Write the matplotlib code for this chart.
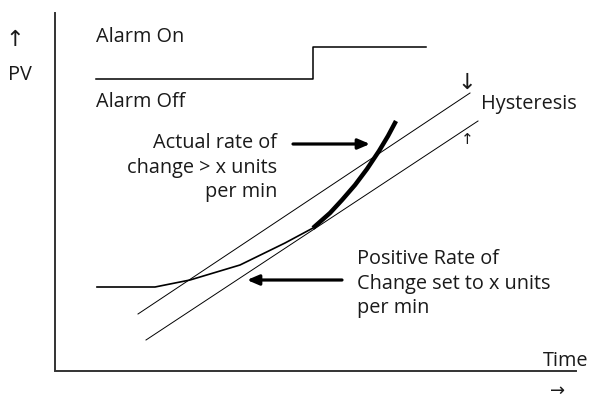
import matplotlib
matplotlib.use("Agg")
import matplotlib.pyplot as plt

# Diagram coordinates (time -> x, PV -> y), upward positive
alarm_x = [96, 313, 313, 426]
alarm_y = [322, 322, 354, 354]

hyst_hi_x = [138, 470]
hyst_hi_y = [87, 308]
hyst_lo_x = [146, 478]
hyst_lo_y = [61, 280]

pv_slow_x = [97, 155, 190, 240, 285, 313]
pv_slow_y = [114, 114, 121, 136, 158, 173]
pv_fast_x = [313, 330, 342, 355, 367, 379, 388, 396]
pv_fast_y = [173, 188, 201, 216, 232, 250, 265, 280]

fig = plt.figure(figsize=(5.92, 4.01), dpi=100)
ax = fig.add_axes([0, 0, 1, 1])
ax.set_xlim(0, 592)
ax.set_ylim(0, 401)
ax.axis("off")

FONT = "Open Sans"
FS = 14.3
TXT = "#1a1a1a"

# axes frame
ax.plot([55, 55, 576], [388, 30, 30], color="#333333", lw=1.4, solid_joinstyle="miter")

# alarm output
ax.plot(alarm_x, alarm_y, color="black", lw=1.1)

# hysteresis band
ax.plot(hyst_hi_x, hyst_hi_y, color="black", lw=0.7)
ax.plot(hyst_lo_x, hyst_lo_y, color="black", lw=0.7)

# process value
ax.plot(pv_slow_x, pv_slow_y, color="black", lw=1.2)
ax.plot(pv_fast_x, pv_fast_y, color="black", lw=3.2, solid_capstyle="butt")

# pointer arrows
arrow = dict(arrowstyle="-|>,head_length=0.7,head_width=0.3",
             color="black", lw=2.3, shrinkA=0, shrinkB=0)
ax.annotate("", xy=(370, 257), xytext=(293, 257), arrowprops=arrow)
ax.annotate("", xy=(247, 121), xytext=(342, 121), arrowprops=arrow)

# texts
ax.text(15, 361, "↑", fontsize=16, family=["DejaVu Sans"], color=TXT,
        ha="center", va="center")
ax.text(20, 326, "PV", fontsize=FS, family=FONT, color=TXT, ha="center", va="center")
ax.text(96, 364, "Alarm On", fontsize=FS, family=FONT, color=TXT, ha="left", va="center")
ax.text(96, 299, "Alarm Off", fontsize=FS, family=FONT, color=TXT, ha="left", va="center")
ax.text(277, 233, "Actual rate of\nchange > x units\nper min", fontsize=FS,
        family=FONT, color=TXT, ha="right", va="center", linespacing=1.3)
ax.text(357, 117, "Positive Rate of\nChange set to x units\nper min", fontsize=FS,
        family=FONT, color=TXT, ha="left", va="center", linespacing=1.3)
ax.text(481, 297, "Hysteresis", fontsize=FS, family=FONT, color=TXT,
        ha="left", va="center")
ax.text(467, 318, "↓", fontsize=16, family=["DejaVu Sans"], color=TXT,
        ha="center", va="center")
ax.text(467, 262, "↑", fontsize=11, family=["DejaVu Sans"], color=TXT,
        ha="center", va="center")
ax.text(543, 40, "Time", fontsize=FS, family=FONT, color=TXT, ha="left", va="center")
ax.text(558, 10, "→", fontsize=13, family=["DejaVu Sans"], color=TXT,
        ha="center", va="center")

fig.savefig("out.png", dpi=100, facecolor="white")
